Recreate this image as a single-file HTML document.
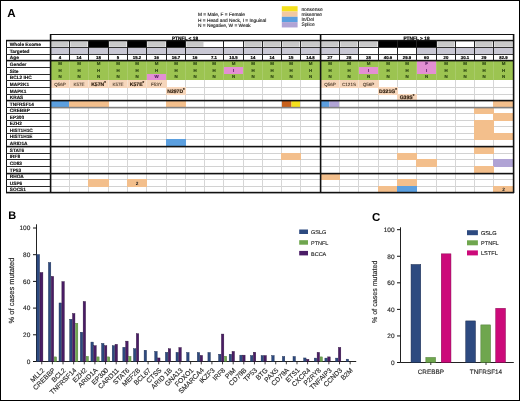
<!DOCTYPE html>
<html><head><meta charset="utf-8"><title>Figure</title>
<style>
html,body{margin:0;padding:0;background:#fff;width:520px;height:401px;overflow:hidden}
svg{display:block;font-family:"Liberation Sans",sans-serif;will-change:transform;text-rendering:geometricPrecision}
</style></head><body>
<svg width="520" height="401" viewBox="0 0 520 401">
<rect x="0" y="0" width="520" height="401" fill="#fff"/>
<text x="7.2" y="16.6" font-size="11.6" fill="#000" font-weight="bold" text-anchor="start">A</text>
<text x="198" y="16.3" font-size="4.8" fill="#111" font-weight="normal" text-anchor="start" stroke="#111" stroke-width="0.12">M = Male, F = Female</text>
<text x="198" y="21.6" font-size="4.8" fill="#111" font-weight="normal" text-anchor="start" stroke="#111" stroke-width="0.12">H = Head and Neck, I = Inguinal</text>
<text x="198" y="26.9" font-size="4.8" fill="#111" font-weight="normal" text-anchor="start" stroke="#111" stroke-width="0.12">N = Negative, W = Weak</text>
<rect x="281.8" y="6.2" width="15.8" height="5.35" fill="#f4e01c"/>
<text x="301.4" y="10.5" font-size="4.9" fill="#111" font-weight="normal" text-anchor="start" stroke="#111" stroke-width="0.1">nonsense</text>
<rect x="281.8" y="11.5" width="15.8" height="5.35" fill="#f1c8a2"/>
<text x="301.4" y="15.8" font-size="4.9" fill="#111" font-weight="normal" text-anchor="start" stroke="#111" stroke-width="0.1">missense</text>
<rect x="281.8" y="16.8" width="15.8" height="5.35" fill="#5b9fdf"/>
<text x="301.4" y="21.1" font-size="4.9" fill="#111" font-weight="normal" text-anchor="start" stroke="#111" stroke-width="0.1">In/Del</text>
<rect x="281.8" y="22.1" width="15.8" height="5.35" fill="#b0a3d5"/>
<text x="301.4" y="26.4" font-size="4.9" fill="#111" font-weight="normal" text-anchor="start" stroke="#111" stroke-width="0.1">Splice</text>
<rect x="51.4" y="42" width="17.1" height="4.8" fill="#c9c9c9"/>
<rect x="70.4" y="42" width="17.1" height="4.8" fill="#c9c9c9"/>
<rect x="88" y="40" width="21" height="7" fill="#000"/>
<rect x="109.4" y="42" width="17.1" height="4.8" fill="#c9c9c9"/>
<rect x="127" y="40" width="20" height="7" fill="#000"/>
<rect x="147.4" y="42" width="18.1" height="4.8" fill="#c9c9c9"/>
<rect x="166" y="40" width="20" height="7" fill="#000"/>
<rect x="186.4" y="42" width="17.1" height="4.8" fill="#c9c9c9"/>
<rect x="244.4" y="42" width="17.1" height="4.8" fill="#c9c9c9"/>
<rect x="263.4" y="42" width="17.1" height="4.8" fill="#c9c9c9"/>
<rect x="282.4" y="42" width="17.1" height="4.8" fill="#c9c9c9"/>
<rect x="301.4" y="42" width="18.1" height="4.8" fill="#c9c9c9"/>
<rect x="321.4" y="42" width="17.1" height="4.8" fill="#c9c9c9"/>
<rect x="340.4" y="42" width="17.1" height="4.8" fill="#c9c9c9"/>
<rect x="359.4" y="42" width="18.1" height="4.8" fill="#c9c9c9"/>
<rect x="378" y="40" width="20" height="7" fill="#000"/>
<rect x="397" y="40" width="20" height="7" fill="#000"/>
<rect x="416" y="40" width="21" height="7" fill="#000"/>
<rect x="437.4" y="42" width="17.1" height="4.8" fill="#c9c9c9"/>
<rect x="475.4" y="42" width="17.1" height="4.8" fill="#c9c9c9"/>
<rect x="494.4" y="42" width="18.1" height="4.8" fill="#c9c9c9"/>
<rect x="50" y="48" width="19" height="6" fill="#c9c8d4"/>
<rect x="69" y="48" width="19" height="6" fill="#c9c8d4"/>
<rect x="88" y="48" width="20" height="6" fill="#c9c8d4"/>
<rect x="108" y="48" width="19" height="6" fill="#c9c8d4"/>
<rect x="127" y="48" width="19" height="6" fill="#c9c8d4"/>
<rect x="146" y="48" width="20" height="6" fill="#c9c8d4"/>
<rect x="166" y="48" width="19" height="6" fill="#c9c8d4"/>
<rect x="185" y="48" width="19" height="6" fill="#c9c8d4"/>
<rect x="204" y="48" width="19" height="6" fill="#c9c8d4"/>
<rect x="223" y="48" width="20" height="6" fill="#c9c8d4"/>
<rect x="243" y="48" width="19" height="6" fill="#c9c8d4"/>
<rect x="262" y="48" width="19" height="6" fill="#c9c8d4"/>
<rect x="281" y="48" width="19" height="6" fill="#c9c8d4"/>
<rect x="300" y="48" width="20" height="6" fill="#c9c8d4"/>
<rect x="320" y="48" width="19" height="6" fill="#c9c8d4"/>
<rect x="339" y="48" width="19" height="6" fill="#c9c8d4"/>
<rect x="416" y="48" width="20" height="6" fill="#c9c8d4"/>
<rect x="436" y="48" width="19" height="6" fill="#c9c8d4"/>
<rect x="455" y="48" width="19" height="6" fill="#c9c8d4"/>
<rect x="474" y="48" width="19" height="6" fill="#c9c8d4"/>
<rect x="493" y="48" width="20" height="6" fill="#c9c8d4"/>
<rect x="50" y="60" width="464" height="20" fill="#9cc451"/>
<rect x="417" y="60" width="19" height="7" fill="#e38fd3"/>
<rect x="224" y="67" width="19" height="7" fill="#e38fd3"/>
<rect x="359" y="67" width="19" height="7" fill="#e38fd3"/>
<rect x="417" y="67" width="19" height="7" fill="#e38fd3"/>
<rect x="147" y="74" width="19" height="6" fill="#e38fd3"/>
<rect x="69" y="60" width="0.6" height="20" fill="#b2d07a"/>
<rect x="88" y="60" width="0.6" height="20" fill="#b2d07a"/>
<rect x="108" y="60" width="0.6" height="20" fill="#b2d07a"/>
<rect x="127" y="60" width="0.6" height="20" fill="#b2d07a"/>
<rect x="146" y="60" width="0.6" height="20" fill="#b2d07a"/>
<rect x="166" y="60" width="0.6" height="20" fill="#b2d07a"/>
<rect x="185" y="60" width="0.6" height="20" fill="#b2d07a"/>
<rect x="204" y="60" width="0.6" height="20" fill="#b2d07a"/>
<rect x="223" y="60" width="0.6" height="20" fill="#b2d07a"/>
<rect x="243" y="60" width="0.6" height="20" fill="#b2d07a"/>
<rect x="262" y="60" width="0.6" height="20" fill="#b2d07a"/>
<rect x="281" y="60" width="0.6" height="20" fill="#b2d07a"/>
<rect x="300" y="60" width="0.6" height="20" fill="#b2d07a"/>
<rect x="320" y="60" width="0.6" height="20" fill="#b2d07a"/>
<rect x="339" y="60" width="0.6" height="20" fill="#b2d07a"/>
<rect x="358" y="60" width="0.6" height="20" fill="#b2d07a"/>
<rect x="378" y="60" width="0.6" height="20" fill="#b2d07a"/>
<rect x="397" y="60" width="0.6" height="20" fill="#b2d07a"/>
<rect x="416" y="60" width="0.6" height="20" fill="#b2d07a"/>
<rect x="436" y="60" width="0.6" height="20" fill="#b2d07a"/>
<rect x="455" y="60" width="0.6" height="20" fill="#b2d07a"/>
<rect x="474" y="60" width="0.6" height="20" fill="#b2d07a"/>
<rect x="493" y="60" width="0.6" height="20" fill="#b2d07a"/>
<text x="60" y="65.3" font-size="4.4" fill="#2f4a12" font-weight="bold" text-anchor="middle" stroke="#2f4a12" stroke-width="0.18">M</text>
<text x="79" y="65.3" font-size="4.4" fill="#2f4a12" font-weight="bold" text-anchor="middle" stroke="#2f4a12" stroke-width="0.18">M</text>
<text x="98.5" y="65.3" font-size="4.4" fill="#2f4a12" font-weight="bold" text-anchor="middle" stroke="#2f4a12" stroke-width="0.18">M</text>
<text x="118" y="65.3" font-size="4.4" fill="#2f4a12" font-weight="bold" text-anchor="middle" stroke="#2f4a12" stroke-width="0.18">M</text>
<text x="137" y="65.3" font-size="4.4" fill="#2f4a12" font-weight="bold" text-anchor="middle" stroke="#2f4a12" stroke-width="0.18">M</text>
<text x="156.5" y="65.3" font-size="4.4" fill="#2f4a12" font-weight="bold" text-anchor="middle" stroke="#2f4a12" stroke-width="0.18">M</text>
<text x="176" y="65.3" font-size="4.4" fill="#2f4a12" font-weight="bold" text-anchor="middle" stroke="#2f4a12" stroke-width="0.18">M</text>
<text x="195" y="65.3" font-size="4.4" fill="#2f4a12" font-weight="bold" text-anchor="middle" stroke="#2f4a12" stroke-width="0.18">M</text>
<text x="214" y="65.3" font-size="4.4" fill="#2f4a12" font-weight="bold" text-anchor="middle" stroke="#2f4a12" stroke-width="0.18">M</text>
<text x="233.5" y="65.3" font-size="4.4" fill="#2f4a12" font-weight="bold" text-anchor="middle" stroke="#2f4a12" stroke-width="0.18">M</text>
<text x="253" y="65.3" font-size="4.4" fill="#2f4a12" font-weight="bold" text-anchor="middle" stroke="#2f4a12" stroke-width="0.18">M</text>
<text x="272" y="65.3" font-size="4.4" fill="#2f4a12" font-weight="bold" text-anchor="middle" stroke="#2f4a12" stroke-width="0.18">M</text>
<text x="291" y="65.3" font-size="4.4" fill="#2f4a12" font-weight="bold" text-anchor="middle" stroke="#2f4a12" stroke-width="0.18">M</text>
<text x="310.5" y="65.3" font-size="4.4" fill="#2f4a12" font-weight="bold" text-anchor="middle" stroke="#2f4a12" stroke-width="0.18">M</text>
<text x="330" y="65.3" font-size="4.4" fill="#2f4a12" font-weight="bold" text-anchor="middle" stroke="#2f4a12" stroke-width="0.18">M</text>
<text x="349" y="65.3" font-size="4.4" fill="#2f4a12" font-weight="bold" text-anchor="middle" stroke="#2f4a12" stroke-width="0.18">M</text>
<text x="368.5" y="65.3" font-size="4.4" fill="#2f4a12" font-weight="bold" text-anchor="middle" stroke="#2f4a12" stroke-width="0.18">M</text>
<text x="388" y="65.3" font-size="4.4" fill="#2f4a12" font-weight="bold" text-anchor="middle" stroke="#2f4a12" stroke-width="0.18">M</text>
<text x="407" y="65.3" font-size="4.4" fill="#2f4a12" font-weight="bold" text-anchor="middle" stroke="#2f4a12" stroke-width="0.18">M</text>
<text x="426.5" y="65.3" font-size="4.4" fill="#5b1f66" font-weight="bold" text-anchor="middle" stroke="#5b1f66" stroke-width="0.18">F</text>
<text x="446" y="65.3" font-size="4.4" fill="#2f4a12" font-weight="bold" text-anchor="middle" stroke="#2f4a12" stroke-width="0.18">M</text>
<text x="465" y="65.3" font-size="4.4" fill="#2f4a12" font-weight="bold" text-anchor="middle" stroke="#2f4a12" stroke-width="0.18">M</text>
<text x="484" y="65.3" font-size="4.4" fill="#2f4a12" font-weight="bold" text-anchor="middle" stroke="#2f4a12" stroke-width="0.18">M</text>
<text x="503.5" y="65.3" font-size="4.4" fill="#2f4a12" font-weight="bold" text-anchor="middle" stroke="#2f4a12" stroke-width="0.18">M</text>
<text x="60" y="72.3" font-size="4.4" fill="#2f4a12" font-weight="bold" text-anchor="middle" stroke="#2f4a12" stroke-width="0.18">H</text>
<text x="79" y="72.3" font-size="4.4" fill="#2f4a12" font-weight="bold" text-anchor="middle" stroke="#2f4a12" stroke-width="0.18">H</text>
<text x="98.5" y="72.3" font-size="4.4" fill="#2f4a12" font-weight="bold" text-anchor="middle" stroke="#2f4a12" stroke-width="0.18">H</text>
<text x="118" y="72.3" font-size="4.4" fill="#2f4a12" font-weight="bold" text-anchor="middle" stroke="#2f4a12" stroke-width="0.18">H</text>
<text x="137" y="72.3" font-size="4.4" fill="#2f4a12" font-weight="bold" text-anchor="middle" stroke="#2f4a12" stroke-width="0.18">H</text>
<text x="156.5" y="72.3" font-size="4.4" fill="#2f4a12" font-weight="bold" text-anchor="middle" stroke="#2f4a12" stroke-width="0.18">H</text>
<text x="176" y="72.3" font-size="4.4" fill="#2f4a12" font-weight="bold" text-anchor="middle" stroke="#2f4a12" stroke-width="0.18">H</text>
<text x="195" y="72.3" font-size="4.4" fill="#2f4a12" font-weight="bold" text-anchor="middle" stroke="#2f4a12" stroke-width="0.18">H</text>
<text x="214" y="72.3" font-size="4.4" fill="#2f4a12" font-weight="bold" text-anchor="middle" stroke="#2f4a12" stroke-width="0.18">H</text>
<text x="233.5" y="72.3" font-size="4.4" fill="#5b1f66" font-weight="bold" text-anchor="middle" stroke="#5b1f66" stroke-width="0.18">I</text>
<text x="253" y="72.3" font-size="4.4" fill="#2f4a12" font-weight="bold" text-anchor="middle" stroke="#2f4a12" stroke-width="0.18">H</text>
<text x="272" y="72.3" font-size="4.4" fill="#2f4a12" font-weight="bold" text-anchor="middle" stroke="#2f4a12" stroke-width="0.18">H</text>
<text x="291" y="72.3" font-size="4.4" fill="#2f4a12" font-weight="bold" text-anchor="middle" stroke="#2f4a12" stroke-width="0.18">H</text>
<text x="310.5" y="72.3" font-size="4.4" fill="#2f4a12" font-weight="bold" text-anchor="middle" stroke="#2f4a12" stroke-width="0.18">H</text>
<text x="330" y="72.3" font-size="4.4" fill="#2f4a12" font-weight="bold" text-anchor="middle" stroke="#2f4a12" stroke-width="0.18">H</text>
<text x="349" y="72.3" font-size="4.4" fill="#2f4a12" font-weight="bold" text-anchor="middle" stroke="#2f4a12" stroke-width="0.18">H</text>
<text x="368.5" y="72.3" font-size="4.4" fill="#5b1f66" font-weight="bold" text-anchor="middle" stroke="#5b1f66" stroke-width="0.18">I</text>
<text x="388" y="72.3" font-size="4.4" fill="#2f4a12" font-weight="bold" text-anchor="middle" stroke="#2f4a12" stroke-width="0.18">H</text>
<text x="407" y="72.3" font-size="4.4" fill="#2f4a12" font-weight="bold" text-anchor="middle" stroke="#2f4a12" stroke-width="0.18">H</text>
<text x="426.5" y="72.3" font-size="4.4" fill="#5b1f66" font-weight="bold" text-anchor="middle" stroke="#5b1f66" stroke-width="0.18">I</text>
<text x="446" y="72.3" font-size="4.4" fill="#2f4a12" font-weight="bold" text-anchor="middle" stroke="#2f4a12" stroke-width="0.18">H</text>
<text x="465" y="72.3" font-size="4.4" fill="#2f4a12" font-weight="bold" text-anchor="middle" stroke="#2f4a12" stroke-width="0.18">H</text>
<text x="484" y="72.3" font-size="4.4" fill="#2f4a12" font-weight="bold" text-anchor="middle" stroke="#2f4a12" stroke-width="0.18">H</text>
<text x="503.5" y="72.3" font-size="4.4" fill="#2f4a12" font-weight="bold" text-anchor="middle" stroke="#2f4a12" stroke-width="0.18">H</text>
<text x="60" y="78.3" font-size="4.4" fill="#2f4a12" font-weight="bold" text-anchor="middle" stroke="#2f4a12" stroke-width="0.18">N</text>
<text x="79" y="78.3" font-size="4.4" fill="#2f4a12" font-weight="bold" text-anchor="middle" stroke="#2f4a12" stroke-width="0.18">N</text>
<text x="98.5" y="78.3" font-size="4.4" fill="#2f4a12" font-weight="bold" text-anchor="middle" stroke="#2f4a12" stroke-width="0.18">N</text>
<text x="118" y="78.3" font-size="4.4" fill="#2f4a12" font-weight="bold" text-anchor="middle" stroke="#2f4a12" stroke-width="0.18">N</text>
<text x="137" y="78.3" font-size="4.4" fill="#2f4a12" font-weight="bold" text-anchor="middle" stroke="#2f4a12" stroke-width="0.18">N</text>
<text x="156.5" y="78.3" font-size="4.4" fill="#5b1f66" font-weight="bold" text-anchor="middle" stroke="#5b1f66" stroke-width="0.18">W</text>
<text x="176" y="78.3" font-size="4.4" fill="#2f4a12" font-weight="bold" text-anchor="middle" stroke="#2f4a12" stroke-width="0.18">N</text>
<text x="195" y="78.3" font-size="4.4" fill="#2f4a12" font-weight="bold" text-anchor="middle" stroke="#2f4a12" stroke-width="0.18">N</text>
<text x="214" y="78.3" font-size="4.4" fill="#2f4a12" font-weight="bold" text-anchor="middle" stroke="#2f4a12" stroke-width="0.18">N</text>
<text x="233.5" y="78.3" font-size="4.4" fill="#2f4a12" font-weight="bold" text-anchor="middle" stroke="#2f4a12" stroke-width="0.18">N</text>
<text x="253" y="78.3" font-size="4.4" fill="#2f4a12" font-weight="bold" text-anchor="middle" stroke="#2f4a12" stroke-width="0.18">N</text>
<text x="272" y="78.3" font-size="4.4" fill="#2f4a12" font-weight="bold" text-anchor="middle" stroke="#2f4a12" stroke-width="0.18">N</text>
<text x="291" y="78.3" font-size="4.4" fill="#2f4a12" font-weight="bold" text-anchor="middle" stroke="#2f4a12" stroke-width="0.18">N</text>
<text x="310.5" y="78.3" font-size="4.4" fill="#2f4a12" font-weight="bold" text-anchor="middle" stroke="#2f4a12" stroke-width="0.18">N</text>
<text x="330" y="78.3" font-size="4.4" fill="#2f4a12" font-weight="bold" text-anchor="middle" stroke="#2f4a12" stroke-width="0.18">N</text>
<text x="349" y="78.3" font-size="4.4" fill="#2f4a12" font-weight="bold" text-anchor="middle" stroke="#2f4a12" stroke-width="0.18">N</text>
<text x="368.5" y="78.3" font-size="4.4" fill="#2f4a12" font-weight="bold" text-anchor="middle" stroke="#2f4a12" stroke-width="0.18">N</text>
<text x="388" y="78.3" font-size="4.4" fill="#2f4a12" font-weight="bold" text-anchor="middle" stroke="#2f4a12" stroke-width="0.18">N</text>
<text x="407" y="78.3" font-size="4.4" fill="#2f4a12" font-weight="bold" text-anchor="middle" stroke="#2f4a12" stroke-width="0.18">N</text>
<text x="426.5" y="78.3" font-size="4.4" fill="#2f4a12" font-weight="bold" text-anchor="middle" stroke="#2f4a12" stroke-width="0.18">N</text>
<text x="446" y="78.3" font-size="4.4" fill="#2f4a12" font-weight="bold" text-anchor="middle" stroke="#2f4a12" stroke-width="0.18">N</text>
<text x="465" y="78.3" font-size="4.4" fill="#2f4a12" font-weight="bold" text-anchor="middle" stroke="#2f4a12" stroke-width="0.18">N</text>
<text x="484" y="78.3" font-size="4.4" fill="#2f4a12" font-weight="bold" text-anchor="middle" stroke="#2f4a12" stroke-width="0.18">N</text>
<text x="503.5" y="78.3" font-size="4.4" fill="#2f4a12" font-weight="bold" text-anchor="middle" stroke="#2f4a12" stroke-width="0.18">N</text>
<rect x="50" y="87" width="464" height="1" fill="#d2d2d2"/>
<rect x="50" y="94" width="464" height="1" fill="#d2d2d2"/>
<rect x="50" y="100" width="464" height="1" fill="#d2d2d2"/>
<rect x="50" y="107" width="464" height="1" fill="#d2d2d2"/>
<rect x="50" y="113" width="464" height="1" fill="#d2d2d2"/>
<rect x="50" y="120" width="464" height="1" fill="#d2d2d2"/>
<rect x="50" y="126" width="464" height="1" fill="#d2d2d2"/>
<rect x="50" y="133" width="464" height="1" fill="#d2d2d2"/>
<rect x="50" y="139" width="464" height="1" fill="#d2d2d2"/>
<rect x="50" y="146" width="464" height="1" fill="#d2d2d2"/>
<rect x="50" y="153" width="464" height="1" fill="#d2d2d2"/>
<rect x="50" y="159" width="464" height="1" fill="#d2d2d2"/>
<rect x="50" y="166" width="464" height="1" fill="#d2d2d2"/>
<rect x="50" y="173" width="464" height="1" fill="#d2d2d2"/>
<rect x="50" y="179" width="464" height="1" fill="#d2d2d2"/>
<rect x="50" y="186" width="464" height="1" fill="#d2d2d2"/>
<rect x="69" y="80" width="1" height="113" fill="#d6d6d6"/>
<rect x="88" y="80" width="1" height="113" fill="#d6d6d6"/>
<rect x="108" y="80" width="1" height="113" fill="#d6d6d6"/>
<rect x="127" y="80" width="1" height="113" fill="#d6d6d6"/>
<rect x="146" y="80" width="1" height="113" fill="#d6d6d6"/>
<rect x="166" y="80" width="1" height="113" fill="#d6d6d6"/>
<rect x="185" y="80" width="1" height="113" fill="#d6d6d6"/>
<rect x="204" y="80" width="1" height="113" fill="#d6d6d6"/>
<rect x="223" y="80" width="1" height="113" fill="#d6d6d6"/>
<rect x="243" y="80" width="1" height="113" fill="#d6d6d6"/>
<rect x="262" y="80" width="1" height="113" fill="#d6d6d6"/>
<rect x="281" y="80" width="1" height="113" fill="#d6d6d6"/>
<rect x="300" y="80" width="1" height="113" fill="#d6d6d6"/>
<rect x="320" y="80" width="1" height="113" fill="#d6d6d6"/>
<rect x="339" y="80" width="1" height="113" fill="#d6d6d6"/>
<rect x="358" y="80" width="1" height="113" fill="#d6d6d6"/>
<rect x="378" y="80" width="1" height="113" fill="#d6d6d6"/>
<rect x="397" y="80" width="1" height="113" fill="#d6d6d6"/>
<rect x="416" y="80" width="1" height="113" fill="#d6d6d6"/>
<rect x="436" y="80" width="1" height="113" fill="#d6d6d6"/>
<rect x="455" y="80" width="1" height="113" fill="#d6d6d6"/>
<rect x="474" y="80" width="1" height="113" fill="#d6d6d6"/>
<rect x="493" y="80" width="1" height="113" fill="#d6d6d6"/>
<rect x="50" y="80" width="20" height="8" fill="#f6d6bb"/>
<rect x="69" y="80" width="20" height="8" fill="#f6d6bb"/>
<rect x="88" y="80" width="21" height="8" fill="#f6d6bb"/>
<rect x="108" y="80" width="20" height="8" fill="#f6d6bb"/>
<rect x="127" y="80" width="20" height="8" fill="#f6d6bb"/>
<rect x="146" y="80" width="21" height="8" fill="#f6d6bb"/>
<rect x="320" y="80" width="20" height="8" fill="#f6d6bb"/>
<rect x="339" y="80" width="20" height="8" fill="#f6d6bb"/>
<rect x="358" y="80" width="21" height="8" fill="#f6d6bb"/>
<rect x="166" y="87" width="20" height="8" fill="#f6d6bb"/>
<rect x="378" y="87" width="20" height="8" fill="#f6d6bb"/>
<rect x="397" y="94" width="20" height="7" fill="#f6d6bb"/>
<rect x="50" y="100" width="20" height="8" fill="#5b9fdf"/>
<rect x="69" y="100" width="20" height="8" fill="#f3bf8c"/>
<rect x="88" y="100" width="21" height="8" fill="#f3bf8c"/>
<rect x="166" y="100" width="20" height="8" fill="#f3bf8c"/>
<rect x="493" y="100" width="21" height="8" fill="#f3bf8c"/>
<rect x="474" y="107" width="20" height="7" fill="#f3bf8c"/>
<rect x="493" y="113" width="21" height="8" fill="#f3bf8c"/>
<rect x="474" y="120" width="20" height="7" fill="#f3bf8c"/>
<rect x="474" y="126" width="20" height="8" fill="#f3bf8c"/>
<rect x="474" y="133" width="20" height="7" fill="#f3bf8c"/>
<rect x="493" y="133" width="21" height="7" fill="#f3bf8c"/>
<rect x="166" y="139" width="20" height="8" fill="#5b9fdf"/>
<rect x="474" y="146" width="20" height="8" fill="#f3bf8c"/>
<rect x="281" y="153" width="20" height="7" fill="#f3bf8c"/>
<rect x="397" y="153" width="20" height="7" fill="#f3bf8c"/>
<rect x="416" y="159" width="21" height="8" fill="#f3bf8c"/>
<rect x="493" y="159" width="21" height="8" fill="#b0a3d5"/>
<rect x="474" y="166" width="20" height="8" fill="#f3bf8c"/>
<rect x="320" y="173" width="20" height="7" fill="#f3bf8c"/>
<rect x="88" y="179" width="21" height="8" fill="#f3bf8c"/>
<rect x="127" y="179" width="20" height="8" fill="#f3bf8c"/>
<rect x="397" y="179" width="20" height="8" fill="#f3bf8c"/>
<rect x="378" y="186" width="20" height="7" fill="#f3bf8c"/>
<rect x="397" y="186" width="20" height="7" fill="#5b9fdf"/>
<rect x="493" y="186" width="21" height="7" fill="#f3bf8c"/>
<rect x="69" y="80" width="0.6" height="7" fill="#fbeadb"/>
<rect x="88" y="80" width="0.6" height="7" fill="#fbeadb"/>
<rect x="108" y="80" width="0.6" height="7" fill="#fbeadb"/>
<rect x="127" y="80" width="0.6" height="7" fill="#fbeadb"/>
<rect x="146" y="80" width="0.6" height="7" fill="#fbeadb"/>
<rect x="339" y="80" width="0.6" height="7" fill="#fbeadb"/>
<rect x="358" y="80" width="0.6" height="7" fill="#fbeadb"/>
<rect x="282" y="101" width="9.5" height="7" fill="#c7601b"/>
<rect x="291.5" y="101" width="8.5" height="7" fill="#f4e01c"/>
<rect x="320" y="101" width="9.5" height="7" fill="#5b9fdf"/>
<rect x="329.5" y="101" width="9.5" height="7" fill="#b0a3d5"/>
<text x="60" y="86" font-size="4.6" fill="#3a2a1a" stroke="#3a2a1a" stroke-width="0.05" font-weight="normal" text-anchor="middle"><tspan>Q56P</tspan></text>
<text x="79" y="86" font-size="4.6" fill="#3a2a1a" stroke="#3a2a1a" stroke-width="0.05" font-weight="normal" text-anchor="middle"><tspan>K57E</tspan></text>
<text x="98.5" y="86" font-size="5.1" fill="#2a1a0a" stroke="#2a1a0a" stroke-width="0.16" font-weight="bold" text-anchor="middle"><tspan>K57N</tspan><tspan font-size="4.2" dy="-1.7">*</tspan></text>
<text x="118" y="86" font-size="4.6" fill="#3a2a1a" stroke="#3a2a1a" stroke-width="0.05" font-weight="normal" text-anchor="middle"><tspan>K57E</tspan></text>
<text x="137" y="86" font-size="5.1" fill="#2a1a0a" stroke="#2a1a0a" stroke-width="0.16" font-weight="bold" text-anchor="middle"><tspan>K57E</tspan><tspan font-size="4.2" dy="-1.7">*</tspan></text>
<text x="156.5" y="86" font-size="4.6" fill="#3a2a1a" stroke="#3a2a1a" stroke-width="0.05" font-weight="normal" text-anchor="middle"><tspan>F53Y</tspan></text>
<text x="330" y="86" font-size="4.6" fill="#3a2a1a" stroke="#3a2a1a" stroke-width="0.05" font-weight="normal" text-anchor="middle"><tspan>Q56P</tspan></text>
<text x="349" y="86" font-size="4.6" fill="#3a2a1a" stroke="#3a2a1a" stroke-width="0.05" font-weight="normal" text-anchor="middle"><tspan>C121S</tspan></text>
<text x="368.5" y="86" font-size="4.6" fill="#3a2a1a" stroke="#3a2a1a" stroke-width="0.05" font-weight="normal" text-anchor="middle"><tspan>Q56P</tspan></text>
<text x="176" y="93" font-size="5.1" fill="#2a1a0a" stroke="#2a1a0a" stroke-width="0.16" font-weight="bold" text-anchor="middle"><tspan>N297D</tspan><tspan font-size="4.2" dy="-1.7">*</tspan></text>
<text x="388" y="93" font-size="5.1" fill="#2a1a0a" stroke="#2a1a0a" stroke-width="0.16" font-weight="bold" text-anchor="middle"><tspan>D321G</tspan><tspan font-size="4.2" dy="-1.7">*</tspan></text>
<text x="407" y="99" font-size="5.1" fill="#2a1a0a" stroke="#2a1a0a" stroke-width="0.16" font-weight="bold" text-anchor="middle"><tspan>G39S</tspan><tspan font-size="4.2" dy="-1.7">*</tspan></text>
<text x="137" y="185" font-size="4.8" fill="#222" font-weight="bold" text-anchor="middle">2</text>
<text x="503.5" y="191" font-size="4.8" fill="#222" font-weight="bold" text-anchor="middle">2</text>
<rect x="50" y="34" width="464" height="1" fill="#111"/>
<rect x="50" y="39.8" width="464" height="1.6" fill="#111"/>
<rect x="50" y="47" width="464" height="1" fill="#333"/>
<rect x="50" y="54" width="464" height="1" fill="#333"/>
<rect x="50" y="59.8" width="464" height="1.6" fill="#111"/>
<rect x="69" y="40" width="1" height="20" fill="#222"/>
<rect x="88" y="40" width="1" height="20" fill="#222"/>
<rect x="108" y="40" width="1" height="20" fill="#222"/>
<rect x="127" y="40" width="1" height="20" fill="#222"/>
<rect x="146" y="40" width="1" height="20" fill="#222"/>
<rect x="166" y="40" width="1" height="20" fill="#222"/>
<rect x="185" y="40" width="1" height="20" fill="#222"/>
<rect x="223" y="40" width="1" height="20" fill="#222"/>
<rect x="243" y="40" width="1" height="20" fill="#222"/>
<rect x="262" y="40" width="1" height="20" fill="#222"/>
<rect x="281" y="40" width="1" height="20" fill="#222"/>
<rect x="300" y="40" width="1" height="20" fill="#222"/>
<rect x="339" y="40" width="1" height="20" fill="#222"/>
<rect x="358" y="40" width="1" height="20" fill="#222"/>
<rect x="378" y="40" width="1" height="20" fill="#222"/>
<rect x="397" y="40" width="1" height="20" fill="#222"/>
<rect x="416" y="40" width="1" height="20" fill="#222"/>
<rect x="436" y="40" width="1" height="20" fill="#222"/>
<rect x="455" y="40" width="1" height="20" fill="#222"/>
<rect x="474" y="40" width="1" height="20" fill="#222"/>
<rect x="493" y="40" width="1" height="20" fill="#222"/>
<rect x="50" y="99.8" width="464" height="1.6" fill="#111"/>
<rect x="50" y="106.8" width="464" height="1.6" fill="#808080"/>
<rect x="50" y="145.8" width="464" height="1.6" fill="#111"/>
<rect x="50" y="172.8" width="464" height="1.6" fill="#111"/>
<rect x="50" y="191.8" width="464" height="1.6" fill="#111"/>
<rect x="49.8" y="34" width="1.6" height="159" fill="#111"/>
<rect x="512.8" y="34" width="1.6" height="159" fill="#111"/>
<rect x="319.8" y="34" width="1.6" height="159" fill="#111"/>
<text x="185" y="39.5" font-size="4.8" fill="#000" font-weight="bold" text-anchor="middle" stroke="#000" stroke-width="0.2">PTNFL &lt; 18</text>
<text x="416.5" y="39.5" font-size="4.8" fill="#000" font-weight="bold" text-anchor="middle" stroke="#000" stroke-width="0.2">PTNFL &gt; 18</text>
<text x="60" y="59" font-size="4.3" fill="#000" font-weight="bold" text-anchor="middle" stroke="#000" stroke-width="0.18">4</text>
<text x="79" y="59" font-size="4.3" fill="#000" font-weight="bold" text-anchor="middle" stroke="#000" stroke-width="0.18">14</text>
<text x="98.5" y="59" font-size="4.3" fill="#000" font-weight="bold" text-anchor="middle" stroke="#000" stroke-width="0.18">18</text>
<text x="118" y="59" font-size="4.3" fill="#000" font-weight="bold" text-anchor="middle" stroke="#000" stroke-width="0.18">5</text>
<text x="137" y="59" font-size="4.3" fill="#000" font-weight="bold" text-anchor="middle" stroke="#000" stroke-width="0.18">15.2</text>
<text x="156.5" y="59" font-size="4.3" fill="#000" font-weight="bold" text-anchor="middle" stroke="#000" stroke-width="0.18">16</text>
<text x="176" y="59" font-size="4.3" fill="#000" font-weight="bold" text-anchor="middle" stroke="#000" stroke-width="0.18">16.7</text>
<text x="195" y="59" font-size="4.3" fill="#000" font-weight="bold" text-anchor="middle" stroke="#000" stroke-width="0.18">16</text>
<text x="214" y="59" font-size="4.3" fill="#000" font-weight="bold" text-anchor="middle" stroke="#000" stroke-width="0.18">7.1</text>
<text x="233.5" y="59" font-size="4.3" fill="#000" font-weight="bold" text-anchor="middle" stroke="#000" stroke-width="0.18">10.5</text>
<text x="253" y="59" font-size="4.3" fill="#000" font-weight="bold" text-anchor="middle" stroke="#000" stroke-width="0.18">14</text>
<text x="272" y="59" font-size="4.3" fill="#000" font-weight="bold" text-anchor="middle" stroke="#000" stroke-width="0.18">14</text>
<text x="291" y="59" font-size="4.3" fill="#000" font-weight="bold" text-anchor="middle" stroke="#000" stroke-width="0.18">15</text>
<text x="310.5" y="59" font-size="4.3" fill="#000" font-weight="bold" text-anchor="middle" stroke="#000" stroke-width="0.18">14.8</text>
<text x="330" y="59" font-size="4.3" fill="#000" font-weight="bold" text-anchor="middle" stroke="#000" stroke-width="0.18">27</text>
<text x="349" y="59" font-size="4.3" fill="#000" font-weight="bold" text-anchor="middle" stroke="#000" stroke-width="0.18">28</text>
<text x="368.5" y="59" font-size="4.3" fill="#000" font-weight="bold" text-anchor="middle" stroke="#000" stroke-width="0.18">38</text>
<text x="388" y="59" font-size="4.3" fill="#000" font-weight="bold" text-anchor="middle" stroke="#000" stroke-width="0.18">40.6</text>
<text x="407" y="59" font-size="4.3" fill="#000" font-weight="bold" text-anchor="middle" stroke="#000" stroke-width="0.18">29.9</text>
<text x="426.5" y="59" font-size="4.3" fill="#000" font-weight="bold" text-anchor="middle" stroke="#000" stroke-width="0.18">60</text>
<text x="446" y="59" font-size="4.3" fill="#000" font-weight="bold" text-anchor="middle" stroke="#000" stroke-width="0.18">20</text>
<text x="465" y="59" font-size="4.3" fill="#000" font-weight="bold" text-anchor="middle" stroke="#000" stroke-width="0.18">30.1</text>
<text x="484" y="59" font-size="4.3" fill="#000" font-weight="bold" text-anchor="middle" stroke="#000" stroke-width="0.18">29</text>
<text x="503.5" y="59" font-size="4.3" fill="#000" font-weight="bold" text-anchor="middle" stroke="#000" stroke-width="0.18">82.9</text>
<rect x="6" y="40" width="1" height="153" fill="#111"/>
<rect x="6" y="39.8" width="44" height="1.6" fill="#111"/>
<rect x="6" y="47" width="44" height="1" fill="#2a2a2a"/>
<rect x="6" y="54" width="44" height="1" fill="#2a2a2a"/>
<rect x="6" y="59.8" width="44" height="1.6" fill="#111"/>
<rect x="6" y="67" width="44" height="1" fill="#2a2a2a"/>
<rect x="6" y="74" width="44" height="1" fill="#2a2a2a"/>
<rect x="6" y="80" width="44" height="1" fill="#2a2a2a"/>
<rect x="6" y="87" width="44" height="1" fill="#2a2a2a"/>
<rect x="6" y="94" width="44" height="1" fill="#2a2a2a"/>
<rect x="6" y="99.8" width="44" height="1.6" fill="#111"/>
<rect x="6" y="107" width="44" height="1" fill="#2a2a2a"/>
<rect x="6" y="113" width="44" height="1" fill="#2a2a2a"/>
<rect x="6" y="120" width="44" height="1" fill="#2a2a2a"/>
<rect x="6" y="126" width="44" height="1" fill="#2a2a2a"/>
<rect x="6" y="133" width="44" height="1" fill="#2a2a2a"/>
<rect x="6" y="139" width="44" height="1" fill="#2a2a2a"/>
<rect x="6" y="145.8" width="44" height="1.6" fill="#111"/>
<rect x="6" y="153" width="44" height="1" fill="#2a2a2a"/>
<rect x="6" y="159" width="44" height="1" fill="#2a2a2a"/>
<rect x="6" y="166" width="44" height="1" fill="#2a2a2a"/>
<rect x="6" y="172.8" width="44" height="1.6" fill="#111"/>
<rect x="6" y="179" width="44" height="1" fill="#2a2a2a"/>
<rect x="6" y="186" width="44" height="1" fill="#2a2a2a"/>
<rect x="6" y="191.8" width="44" height="1.6" fill="#111"/>
<text x="9.8" y="46" font-size="4.75" fill="#111" font-weight="bold" text-anchor="start" stroke="#111" stroke-width="0.14">Whole Exome</text>
<text x="9.8" y="53" font-size="4.75" fill="#111" font-weight="bold" text-anchor="start" stroke="#111" stroke-width="0.14">Targeted</text>
<text x="9.8" y="59" font-size="4.75" fill="#111" font-weight="bold" text-anchor="start" stroke="#111" stroke-width="0.14">Age</text>
<text x="9.8" y="66" font-size="4.75" fill="#111" font-weight="bold" text-anchor="start" stroke="#111" stroke-width="0.14">Gender</text>
<text x="9.8" y="73" font-size="4.75" fill="#111" font-weight="bold" text-anchor="start" stroke="#111" stroke-width="0.14">Site</text>
<text x="9.8" y="79" font-size="4.75" fill="#111" font-weight="bold" text-anchor="start" stroke="#111" stroke-width="0.14">BCL2 IHC</text>
<text x="9.8" y="86" font-size="4.75" fill="#111" font-weight="bold" text-anchor="start" stroke="#111" stroke-width="0.14">MAP2K1</text>
<text x="9.8" y="93" font-size="4.75" fill="#111" font-weight="bold" text-anchor="start" stroke="#111" stroke-width="0.14">MAPK1</text>
<text x="9.8" y="99" font-size="4.75" fill="#111" font-weight="bold" text-anchor="start" stroke="#111" stroke-width="0.14">KRAS</text>
<text x="9.8" y="106" font-size="4.75" fill="#111" font-weight="bold" text-anchor="start" stroke="#111" stroke-width="0.14">TNFRSF14</text>
<text x="9.8" y="112" font-size="4.75" fill="#111" font-weight="bold" text-anchor="start" stroke="#111" stroke-width="0.14">CREBBP</text>
<text x="9.8" y="119" font-size="4.75" fill="#111" font-weight="bold" text-anchor="start" stroke="#111" stroke-width="0.14">EP300</text>
<text x="9.8" y="125" font-size="4.75" fill="#111" font-weight="bold" text-anchor="start" stroke="#111" stroke-width="0.14">EZH2</text>
<text x="9.8" y="132" font-size="4.75" fill="#111" font-weight="bold" text-anchor="start" stroke="#111" stroke-width="0.14">HIST1H1C</text>
<text x="9.8" y="138" font-size="4.75" fill="#111" font-weight="bold" text-anchor="start" stroke="#111" stroke-width="0.14">HIST1H1E</text>
<text x="9.8" y="145" font-size="4.75" fill="#111" font-weight="bold" text-anchor="start" stroke="#111" stroke-width="0.14">ARID1A</text>
<text x="9.8" y="152" font-size="4.75" fill="#111" font-weight="bold" text-anchor="start" stroke="#111" stroke-width="0.14">STAT6</text>
<text x="9.8" y="158" font-size="4.75" fill="#111" font-weight="bold" text-anchor="start" stroke="#111" stroke-width="0.14">IRF8</text>
<text x="9.8" y="165" font-size="4.75" fill="#111" font-weight="bold" text-anchor="start" stroke="#111" stroke-width="0.14">CD83</text>
<text x="9.8" y="172" font-size="4.75" fill="#111" font-weight="bold" text-anchor="start" stroke="#111" stroke-width="0.14">TP53</text>
<text x="9.8" y="178" font-size="4.75" fill="#111" font-weight="bold" text-anchor="start" stroke="#111" stroke-width="0.14">RHOA</text>
<text x="9.8" y="185" font-size="4.75" fill="#111" font-weight="bold" text-anchor="start" stroke="#111" stroke-width="0.14">USP6</text>
<text x="9.8" y="191" font-size="4.75" fill="#111" font-weight="bold" text-anchor="start" stroke="#111" stroke-width="0.14">SOCS1</text>
<text x="8.2" y="218.6" font-size="11" fill="#000" font-weight="bold" text-anchor="start">B</text>
<line x1="36.5" y1="224.3" x2="36.5" y2="361.5" stroke="#222" stroke-width="1"/>
<line x1="36.5" y1="361.5" x2="356.2" y2="361.5" stroke="#222" stroke-width="1.1"/>
<line x1="33" y1="361.5" x2="36.5" y2="361.5" stroke="#111" stroke-width="1"/>
<text x="30.3" y="363.8" font-size="6.5" fill="#262626" font-weight="normal" text-anchor="end" stroke="#262626" stroke-width="0.15">0</text>
<line x1="33" y1="334.8" x2="36.5" y2="334.8" stroke="#111" stroke-width="1"/>
<text x="30.3" y="337.1" font-size="6.5" fill="#262626" font-weight="normal" text-anchor="end" stroke="#262626" stroke-width="0.15">20</text>
<line x1="33" y1="308.1" x2="36.5" y2="308.1" stroke="#111" stroke-width="1"/>
<text x="30.3" y="310.4" font-size="6.5" fill="#262626" font-weight="normal" text-anchor="end" stroke="#262626" stroke-width="0.15">40</text>
<line x1="33" y1="281.4" x2="36.5" y2="281.4" stroke="#111" stroke-width="1"/>
<text x="30.3" y="283.7" font-size="6.5" fill="#262626" font-weight="normal" text-anchor="end" stroke="#262626" stroke-width="0.15">60</text>
<line x1="33" y1="254.7" x2="36.5" y2="254.7" stroke="#111" stroke-width="1"/>
<text x="30.3" y="257" font-size="6.5" fill="#262626" font-weight="normal" text-anchor="end" stroke="#262626" stroke-width="0.15">80</text>
<line x1="33" y1="228" x2="36.5" y2="228" stroke="#111" stroke-width="1"/>
<text x="30.3" y="230.3" font-size="6.5" fill="#262626" font-weight="normal" text-anchor="end" stroke="#262626" stroke-width="0.15">100</text>
<text x="0" y="0" font-size="7.5" fill="#262626" font-weight="normal" text-anchor="middle" stroke="#262626" stroke-width="0.15" transform="translate(14.2 290.5) rotate(-90)">% of cases mutated</text>
<rect x="36.7" y="254.5" width="2.9" height="107" fill="#2d4a80" stroke="#1b2a4c" stroke-width="0.4"/>
<rect x="40" y="272.52" width="2.9" height="88.98" fill="#4a1c66" stroke="#2a1038" stroke-width="0.4"/>
<line x1="41.75" y1="361.5" x2="41.75" y2="364.3" stroke="#222" stroke-width="0.9"/>
<text font-size="6.8" fill="#262626" stroke="#262626" stroke-width="0.12" text-anchor="end" transform="translate(44.95 370.7) rotate(-45)">MLL2</text>
<rect x="48.38" y="262.51" width="2.45" height="98.99" fill="#2d4a80" stroke="#1b2a4c" stroke-width="0.4"/>
<rect x="51.23" y="276.39" width="2.45" height="85.11" fill="#4a1c66" stroke="#2a1038" stroke-width="0.4"/>
<rect x="54.28" y="356.89" width="2.3" height="4.61" fill="#6fa64e" stroke="#4a7a32" stroke-width="0.4"/>
<line x1="52.38" y1="361.5" x2="52.38" y2="364.3" stroke="#222" stroke-width="0.9"/>
<text font-size="6.8" fill="#262626" stroke="#262626" stroke-width="0.12" text-anchor="end" transform="translate(55.59 370.7) rotate(-45)">CREBBP</text>
<rect x="59.02" y="302.96" width="2.45" height="58.54" fill="#2d4a80" stroke="#1b2a4c" stroke-width="0.4"/>
<rect x="61.87" y="281.6" width="2.45" height="79.9" fill="#4a1c66" stroke="#2a1038" stroke-width="0.4"/>
<line x1="63.02" y1="361.5" x2="63.02" y2="364.3" stroke="#222" stroke-width="0.9"/>
<text font-size="6.8" fill="#262626" stroke="#262626" stroke-width="0.12" text-anchor="end" transform="translate(66.22 370.7) rotate(-45)">BCL2</text>
<rect x="69.66" y="319.25" width="2.45" height="42.25" fill="#2d4a80" stroke="#1b2a4c" stroke-width="0.4"/>
<rect x="72.5" y="313.51" width="2.45" height="47.99" fill="#4a1c66" stroke="#2a1038" stroke-width="0.4"/>
<rect x="75.55" y="323.25" width="2.3" height="38.25" fill="#6fa64e" stroke="#4a7a32" stroke-width="0.4"/>
<line x1="73.66" y1="361.5" x2="73.66" y2="364.3" stroke="#222" stroke-width="0.9"/>
<text font-size="6.8" fill="#262626" stroke="#262626" stroke-width="0.12" text-anchor="end" transform="translate(76.86 370.7) rotate(-45)">TNFRSF14</text>
<rect x="80.29" y="332.2" width="2.45" height="29.3" fill="#2d4a80" stroke="#1b2a4c" stroke-width="0.4"/>
<rect x="83.14" y="301.49" width="2.45" height="60.01" fill="#4a1c66" stroke="#2a1038" stroke-width="0.4"/>
<rect x="86.19" y="356.36" width="2.3" height="5.14" fill="#6fa64e" stroke="#4a7a32" stroke-width="0.4"/>
<line x1="84.29" y1="361.5" x2="84.29" y2="364.3" stroke="#222" stroke-width="0.9"/>
<text font-size="6.8" fill="#262626" stroke="#262626" stroke-width="0.12" text-anchor="end" transform="translate(87.49 370.7) rotate(-45)">EZH2</text>
<rect x="90.92" y="342.08" width="2.45" height="19.42" fill="#2d4a80" stroke="#1b2a4c" stroke-width="0.4"/>
<rect x="93.77" y="345.68" width="2.45" height="15.82" fill="#4a1c66" stroke="#2a1038" stroke-width="0.4"/>
<rect x="96.82" y="356.89" width="2.3" height="4.61" fill="#6fa64e" stroke="#4a7a32" stroke-width="0.4"/>
<line x1="94.92" y1="361.5" x2="94.92" y2="364.3" stroke="#222" stroke-width="0.9"/>
<text font-size="6.8" fill="#262626" stroke="#262626" stroke-width="0.12" text-anchor="end" transform="translate(98.12 370.7) rotate(-45)">ARID1A</text>
<rect x="101.56" y="343.41" width="2.45" height="18.09" fill="#2d4a80" stroke="#1b2a4c" stroke-width="0.4"/>
<rect x="104.41" y="345.68" width="2.45" height="15.82" fill="#4a1c66" stroke="#2a1038" stroke-width="0.4"/>
<rect x="107.46" y="356.89" width="2.3" height="4.61" fill="#6fa64e" stroke="#4a7a32" stroke-width="0.4"/>
<line x1="105.56" y1="361.5" x2="105.56" y2="364.3" stroke="#222" stroke-width="0.9"/>
<text font-size="6.8" fill="#262626" stroke="#262626" stroke-width="0.12" text-anchor="end" transform="translate(108.76 370.7) rotate(-45)">EP300</text>
<rect x="112.19" y="345.68" width="2.45" height="15.82" fill="#2d4a80" stroke="#1b2a4c" stroke-width="0.4"/>
<rect x="115.04" y="344.34" width="2.45" height="17.16" fill="#4a1c66" stroke="#2a1038" stroke-width="0.4"/>
<line x1="116.19" y1="361.5" x2="116.19" y2="364.3" stroke="#222" stroke-width="0.9"/>
<text font-size="6.8" fill="#262626" stroke="#262626" stroke-width="0.12" text-anchor="end" transform="translate(119.39 370.7) rotate(-45)">CARD11</text>
<rect x="122.83" y="347.28" width="2.45" height="14.22" fill="#2d4a80" stroke="#1b2a4c" stroke-width="0.4"/>
<rect x="125.68" y="341.14" width="2.45" height="20.36" fill="#4a1c66" stroke="#2a1038" stroke-width="0.4"/>
<rect x="128.73" y="356.36" width="2.3" height="5.14" fill="#6fa64e" stroke="#4a7a32" stroke-width="0.4"/>
<line x1="126.83" y1="361.5" x2="126.83" y2="364.3" stroke="#222" stroke-width="0.9"/>
<text font-size="6.8" fill="#262626" stroke="#262626" stroke-width="0.12" text-anchor="end" transform="translate(130.03 370.7) rotate(-45)">STAT6</text>
<rect x="133.46" y="348.75" width="2.45" height="12.75" fill="#2d4a80" stroke="#1b2a4c" stroke-width="0.4"/>
<rect x="136.31" y="333.66" width="2.45" height="27.84" fill="#4a1c66" stroke="#2a1038" stroke-width="0.4"/>
<line x1="137.46" y1="361.5" x2="137.46" y2="364.3" stroke="#222" stroke-width="0.9"/>
<text font-size="6.8" fill="#262626" stroke="#262626" stroke-width="0.12" text-anchor="end" transform="translate(140.66 370.7) rotate(-45)">MEF2B</text>
<rect x="144.1" y="350.22" width="2.45" height="11.28" fill="#2d4a80" stroke="#1b2a4c" stroke-width="0.4"/>
<line x1="148.1" y1="361.5" x2="148.1" y2="364.3" stroke="#222" stroke-width="0.9"/>
<text font-size="6.8" fill="#262626" stroke="#262626" stroke-width="0.12" text-anchor="end" transform="translate(151.3 370.7) rotate(-45)">BCL67</text>
<rect x="154.73" y="351.42" width="2.45" height="10.08" fill="#2d4a80" stroke="#1b2a4c" stroke-width="0.4"/>
<rect x="157.58" y="357.96" width="2.45" height="3.54" fill="#4a1c66" stroke="#2a1038" stroke-width="0.4"/>
<line x1="158.73" y1="361.5" x2="158.73" y2="364.3" stroke="#222" stroke-width="0.9"/>
<text font-size="6.8" fill="#262626" stroke="#262626" stroke-width="0.12" text-anchor="end" transform="translate(161.93 370.7) rotate(-45)">CTSS</text>
<rect x="165.37" y="352.35" width="2.45" height="9.14" fill="#2d4a80" stroke="#1b2a4c" stroke-width="0.4"/>
<rect x="168.22" y="348.75" width="2.45" height="12.75" fill="#4a1c66" stroke="#2a1038" stroke-width="0.4"/>
<line x1="169.37" y1="361.5" x2="169.37" y2="364.3" stroke="#222" stroke-width="0.9"/>
<text font-size="6.8" fill="#262626" stroke="#262626" stroke-width="0.12" text-anchor="end" transform="translate(172.57 370.7) rotate(-45)">ARID 1B</text>
<rect x="176" y="352.35" width="2.45" height="9.14" fill="#2d4a80" stroke="#1b2a4c" stroke-width="0.4"/>
<rect x="178.85" y="347.55" width="2.45" height="13.95" fill="#4a1c66" stroke="#2a1038" stroke-width="0.4"/>
<line x1="180" y1="361.5" x2="180" y2="364.3" stroke="#222" stroke-width="0.9"/>
<text font-size="6.8" fill="#262626" stroke="#262626" stroke-width="0.12" text-anchor="end" transform="translate(183.2 370.7) rotate(-45)">GNA13</text>
<rect x="186.64" y="352.49" width="2.45" height="9.01" fill="#2d4a80" stroke="#1b2a4c" stroke-width="0.4"/>
<line x1="190.64" y1="361.5" x2="190.64" y2="364.3" stroke="#222" stroke-width="0.9"/>
<text font-size="6.8" fill="#262626" stroke="#262626" stroke-width="0.12" text-anchor="end" transform="translate(193.84 370.7) rotate(-45)">FOXO1</text>
<rect x="197.27" y="352.49" width="2.45" height="9.01" fill="#2d4a80" stroke="#1b2a4c" stroke-width="0.4"/>
<rect x="200.12" y="355.43" width="2.45" height="6.07" fill="#4a1c66" stroke="#2a1038" stroke-width="0.4"/>
<line x1="201.27" y1="361.5" x2="201.27" y2="364.3" stroke="#222" stroke-width="0.9"/>
<text font-size="6.8" fill="#262626" stroke="#262626" stroke-width="0.12" text-anchor="end" transform="translate(204.47 370.7) rotate(-45)">SMARCA4</text>
<rect x="207.91" y="352.49" width="2.45" height="9.01" fill="#2d4a80" stroke="#1b2a4c" stroke-width="0.4"/>
<line x1="211.91" y1="361.5" x2="211.91" y2="364.3" stroke="#222" stroke-width="0.9"/>
<text font-size="6.8" fill="#262626" stroke="#262626" stroke-width="0.12" text-anchor="end" transform="translate(215.11 370.7) rotate(-45)">IKZF3</text>
<rect x="218.54" y="354.22" width="2.45" height="7.28" fill="#2d4a80" stroke="#1b2a4c" stroke-width="0.4"/>
<rect x="221.39" y="334.07" width="2.45" height="27.43" fill="#4a1c66" stroke="#2a1038" stroke-width="0.4"/>
<rect x="224.44" y="356.23" width="2.3" height="5.27" fill="#6fa64e" stroke="#4a7a32" stroke-width="0.4"/>
<line x1="222.54" y1="361.5" x2="222.54" y2="364.3" stroke="#222" stroke-width="0.9"/>
<text font-size="6.8" fill="#262626" stroke="#262626" stroke-width="0.12" text-anchor="end" transform="translate(225.74 370.7) rotate(-45)">IRF8</text>
<rect x="229.18" y="354.22" width="2.45" height="7.28" fill="#2d4a80" stroke="#1b2a4c" stroke-width="0.4"/>
<rect x="232.03" y="351.42" width="2.45" height="10.08" fill="#4a1c66" stroke="#2a1038" stroke-width="0.4"/>
<line x1="233.18" y1="361.5" x2="233.18" y2="364.3" stroke="#222" stroke-width="0.9"/>
<text font-size="6.8" fill="#262626" stroke="#262626" stroke-width="0.12" text-anchor="end" transform="translate(236.38 370.7) rotate(-45)">PIM</text>
<rect x="239.81" y="355.16" width="2.45" height="6.34" fill="#2d4a80" stroke="#1b2a4c" stroke-width="0.4"/>
<rect x="242.66" y="355.16" width="2.45" height="6.34" fill="#4a1c66" stroke="#2a1038" stroke-width="0.4"/>
<line x1="243.81" y1="361.5" x2="243.81" y2="364.3" stroke="#222" stroke-width="0.9"/>
<text font-size="6.8" fill="#262626" stroke="#262626" stroke-width="0.12" text-anchor="end" transform="translate(247.01 370.7) rotate(-45)">CD79B</text>
<rect x="250.45" y="355.56" width="2.45" height="5.94" fill="#2d4a80" stroke="#1b2a4c" stroke-width="0.4"/>
<rect x="253.3" y="352.22" width="2.45" height="9.28" fill="#4a1c66" stroke="#2a1038" stroke-width="0.4"/>
<line x1="254.45" y1="361.5" x2="254.45" y2="364.3" stroke="#222" stroke-width="0.9"/>
<text font-size="6.8" fill="#262626" stroke="#262626" stroke-width="0.12" text-anchor="end" transform="translate(257.65 370.7) rotate(-45)">TP53</text>
<rect x="261.08" y="355.56" width="2.45" height="5.94" fill="#2d4a80" stroke="#1b2a4c" stroke-width="0.4"/>
<rect x="263.94" y="355.56" width="2.45" height="5.94" fill="#4a1c66" stroke="#2a1038" stroke-width="0.4"/>
<line x1="265.08" y1="361.5" x2="265.08" y2="364.3" stroke="#222" stroke-width="0.9"/>
<text font-size="6.8" fill="#262626" stroke="#262626" stroke-width="0.12" text-anchor="end" transform="translate(268.28 370.7) rotate(-45)">BTG</text>
<rect x="271.72" y="355.56" width="2.45" height="5.94" fill="#2d4a80" stroke="#1b2a4c" stroke-width="0.4"/>
<line x1="275.72" y1="361.5" x2="275.72" y2="364.3" stroke="#222" stroke-width="0.9"/>
<text font-size="6.8" fill="#262626" stroke="#262626" stroke-width="0.12" text-anchor="end" transform="translate(278.92 370.7) rotate(-45)">PAX5</text>
<rect x="282.35" y="356.49" width="2.45" height="5.01" fill="#2d4a80" stroke="#1b2a4c" stroke-width="0.4"/>
<line x1="286.35" y1="361.5" x2="286.35" y2="364.3" stroke="#222" stroke-width="0.9"/>
<text font-size="6.8" fill="#262626" stroke="#262626" stroke-width="0.12" text-anchor="end" transform="translate(289.55 370.7) rotate(-45)">CD79A</text>
<rect x="292.99" y="356.49" width="2.45" height="5.01" fill="#2d4a80" stroke="#1b2a4c" stroke-width="0.4"/>
<line x1="296.99" y1="361.5" x2="296.99" y2="364.3" stroke="#222" stroke-width="0.9"/>
<text font-size="6.8" fill="#262626" stroke="#262626" stroke-width="0.12" text-anchor="end" transform="translate(300.19 370.7) rotate(-45)">ETS1</text>
<rect x="303.62" y="357.96" width="2.45" height="3.54" fill="#2d4a80" stroke="#1b2a4c" stroke-width="0.4"/>
<rect x="306.48" y="359.3" width="2.45" height="2.2" fill="#4a1c66" stroke="#2a1038" stroke-width="0.4"/>
<line x1="307.62" y1="361.5" x2="307.62" y2="364.3" stroke="#222" stroke-width="0.9"/>
<text font-size="6.8" fill="#262626" stroke="#262626" stroke-width="0.12" text-anchor="end" transform="translate(310.82 370.7) rotate(-45)">CXCR4</text>
<rect x="314.26" y="358.1" width="2.45" height="3.4" fill="#2d4a80" stroke="#1b2a4c" stroke-width="0.4"/>
<rect x="317.11" y="352.35" width="2.45" height="9.14" fill="#4a1c66" stroke="#2a1038" stroke-width="0.4"/>
<rect x="320.16" y="356.89" width="2.3" height="4.61" fill="#6fa64e" stroke="#4a7a32" stroke-width="0.4"/>
<line x1="318.26" y1="361.5" x2="318.26" y2="364.3" stroke="#222" stroke-width="0.9"/>
<text font-size="6.8" fill="#262626" stroke="#262626" stroke-width="0.12" text-anchor="end" transform="translate(321.46 370.7) rotate(-45)">P2RY8</text>
<rect x="324.89" y="358.1" width="2.45" height="3.4" fill="#2d4a80" stroke="#1b2a4c" stroke-width="0.4"/>
<rect x="327.75" y="356.89" width="2.45" height="4.61" fill="#4a1c66" stroke="#2a1038" stroke-width="0.4"/>
<line x1="328.89" y1="361.5" x2="328.89" y2="364.3" stroke="#222" stroke-width="0.9"/>
<text font-size="6.8" fill="#262626" stroke="#262626" stroke-width="0.12" text-anchor="end" transform="translate(332.09 370.7) rotate(-45)">TNFAIP3</text>
<rect x="335.53" y="358.1" width="2.45" height="3.4" fill="#2d4a80" stroke="#1b2a4c" stroke-width="0.4"/>
<rect x="338.38" y="347.42" width="2.45" height="14.08" fill="#4a1c66" stroke="#2a1038" stroke-width="0.4"/>
<line x1="339.53" y1="361.5" x2="339.53" y2="364.3" stroke="#222" stroke-width="0.9"/>
<text font-size="6.8" fill="#262626" stroke="#262626" stroke-width="0.12" text-anchor="end" transform="translate(342.73 370.7) rotate(-45)">CCND3</text>
<rect x="346.17" y="359.16" width="2.45" height="2.34" fill="#2d4a80" stroke="#1b2a4c" stroke-width="0.4"/>
<line x1="350.17" y1="361.5" x2="350.17" y2="364.3" stroke="#222" stroke-width="0.9"/>
<text font-size="6.8" fill="#262626" stroke="#262626" stroke-width="0.12" text-anchor="end" transform="translate(353.37 370.7) rotate(-45)">B2M</text>
<rect x="299.2" y="229.5" width="8.8" height="4.5" fill="#2d4a80"/>
<text x="311" y="234.3" font-size="5.5" fill="#262626" font-weight="normal" text-anchor="start" stroke="#262626" stroke-width="0.13">GSLG</text>
<rect x="299.2" y="240.2" width="8.8" height="4.5" fill="#6fa64e"/>
<text x="311" y="245" font-size="5.5" fill="#262626" font-weight="normal" text-anchor="start" stroke="#262626" stroke-width="0.13">PTNFL</text>
<rect x="299.2" y="250.9" width="8.8" height="4.5" fill="#4a1c66"/>
<text x="311" y="255.7" font-size="5.5" fill="#262626" font-weight="normal" text-anchor="start" stroke="#262626" stroke-width="0.13">BCCA</text>
<text x="372" y="220.9" font-size="11.5" fill="#000" font-weight="bold" text-anchor="start">C</text>
<line x1="400.5" y1="227.3" x2="400.5" y2="362.5" stroke="#222" stroke-width="1"/>
<line x1="400.5" y1="362.5" x2="513.8" y2="362.5" stroke="#222" stroke-width="1.1"/>
<line x1="397" y1="362.5" x2="400.5" y2="362.5" stroke="#111" stroke-width="1"/>
<text x="394.6" y="364.8" font-size="6.5" fill="#262626" font-weight="normal" text-anchor="end" stroke="#262626" stroke-width="0.15">0</text>
<line x1="397" y1="335.94" x2="400.5" y2="335.94" stroke="#111" stroke-width="1"/>
<text x="394.6" y="338.24" font-size="6.5" fill="#262626" font-weight="normal" text-anchor="end" stroke="#262626" stroke-width="0.15">20</text>
<line x1="397" y1="309.38" x2="400.5" y2="309.38" stroke="#111" stroke-width="1"/>
<text x="394.6" y="311.68" font-size="6.5" fill="#262626" font-weight="normal" text-anchor="end" stroke="#262626" stroke-width="0.15">40</text>
<line x1="397" y1="282.82" x2="400.5" y2="282.82" stroke="#111" stroke-width="1"/>
<text x="394.6" y="285.12" font-size="6.5" fill="#262626" font-weight="normal" text-anchor="end" stroke="#262626" stroke-width="0.15">60</text>
<line x1="397" y1="256.26" x2="400.5" y2="256.26" stroke="#111" stroke-width="1"/>
<text x="394.6" y="258.56" font-size="6.5" fill="#262626" font-weight="normal" text-anchor="end" stroke="#262626" stroke-width="0.15">80</text>
<line x1="397" y1="229.7" x2="400.5" y2="229.7" stroke="#111" stroke-width="1"/>
<text x="394.6" y="232" font-size="6.5" fill="#262626" font-weight="normal" text-anchor="end" stroke="#262626" stroke-width="0.15">100</text>
<text x="0" y="0" font-size="7.1" fill="#262626" font-weight="normal" text-anchor="middle" stroke="#262626" stroke-width="0.15" transform="translate(376.6 291.8) rotate(-90)">% of cases mutated</text>
<rect x="411.05" y="264.48" width="9.7" height="98.02" fill="#2d4a80" stroke="#1b2a4c" stroke-width="0.5"/>
<rect x="425.85" y="357.44" width="9.7" height="5.06" fill="#6fa64e" stroke="#4a7a32" stroke-width="0.5"/>
<rect x="441.25" y="253.85" width="9.7" height="108.65" fill="#cc0a7a" stroke="#8a0450" stroke-width="0.5"/>
<rect x="465.75" y="320.92" width="9.7" height="41.58" fill="#2d4a80" stroke="#1b2a4c" stroke-width="0.5"/>
<rect x="480.85" y="324.9" width="9.7" height="37.6" fill="#6fa64e" stroke="#4a7a32" stroke-width="0.5"/>
<rect x="495.75" y="308.3" width="9.7" height="54.2" fill="#cc0a7a" stroke="#8a0450" stroke-width="0.5"/>
<line x1="430.8" y1="362.5" x2="430.8" y2="365" stroke="#222" stroke-width="0.9"/>
<line x1="486" y1="362.5" x2="486" y2="365" stroke="#222" stroke-width="0.9"/>
<text x="430.8" y="374" font-size="6.4" fill="#262626" font-weight="normal" text-anchor="middle" stroke="#262626" stroke-width="0.13">CREBBP</text>
<text x="486" y="374" font-size="6.4" fill="#262626" font-weight="normal" text-anchor="middle" stroke="#262626" stroke-width="0.13">TNFRSF14</text>
<rect x="467" y="230.2" width="10.9" height="5" fill="#2d4a80"/>
<text x="481" y="235" font-size="5.6" fill="#262626" font-weight="normal" text-anchor="start" stroke="#262626" stroke-width="0.13">GSLG</text>
<rect x="467" y="240.3" width="10.9" height="5" fill="#6fa64e"/>
<text x="481" y="245" font-size="5.6" fill="#262626" font-weight="normal" text-anchor="start" stroke="#262626" stroke-width="0.13">PTNFL</text>
<rect x="467" y="250.4" width="10.9" height="5" fill="#cc0a7a"/>
<text x="481" y="255" font-size="5.6" fill="#262626" font-weight="normal" text-anchor="start" stroke="#262626" stroke-width="0.13">LSTFL</text>
<rect x="0.5" y="0.5" width="519" height="400" fill="none" stroke="#000" stroke-width="1"/>
</svg>
</body></html>
